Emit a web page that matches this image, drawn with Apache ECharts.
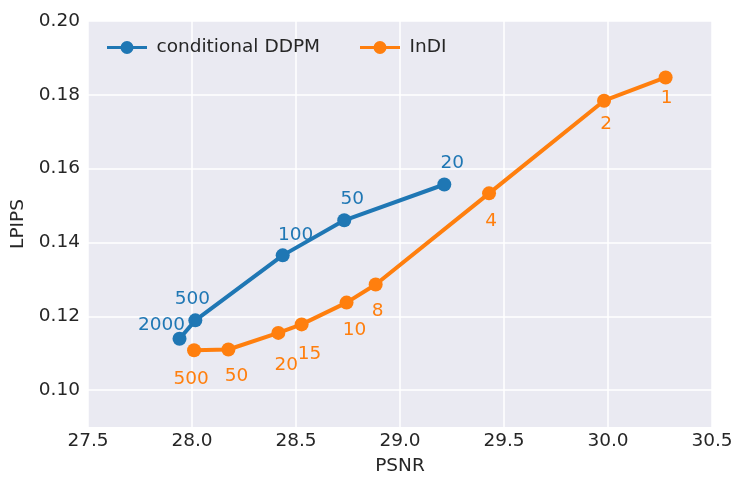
<!DOCTYPE html>
<html>
<head>
<meta charset="utf-8">
<script src="https://cdn.jsdelivr.net/npm/echarts@6/dist/echarts.min.js"></script>
<style>
html,body{margin:0;padding:0;background:#fff;}
#c{width:747px;height:491px;}
</style>
</head>
<body>
<div id="c"></div>
<script>
// Data
const ddpmPSNR  = [27.94, 28.016, 28.436, 28.732, 29.213];
const ddpmLPIPS = [0.1139, 0.1189, 0.1365, 0.1460, 0.1557];
const ddpmSteps = ['2000', '500', '100', '50', '20'];

const indiPSNR  = [28.010, 28.175, 28.415, 28.527, 28.743, 28.883, 29.428, 29.981, 30.277];
const indiLPIPS = [0.1108, 0.1110, 0.1155, 0.1178, 0.1237, 0.1286, 0.1533, 0.1784, 0.1847];
const indiSteps = ['500', '50', '20', '15', '10', '8', '4', '2', '1'];

const xTicks = [27.5, 28.0, 28.5, 29.0, 29.5, 30.0, 30.5];
const yTickLabels = ['0.10', '0.12', '0.14', '0.16', '0.18', '0.20'];

// Label placement (style, not data)
const ddpmLabelOffsets = [[-18,-14],[-3,-21],[13,-20],[8,-21],[8,-21]];
const indiLabelOffsets = [[-3,29],[8,27],[8,32],[8,30],[8,28],[2,27],[2,28],[2,23],[1,21]];

const BLUE = '#1f77b4', ORANGE = '#ff7f0e', TXT = '#262626';
const FONT = 'DejaVu Sans';
const FS = 18.5;

function build(xs, ys, labels, offsets) {
  return xs.map((x, i) => ({
    value: [x, ys[i]],
    name: labels[i],
    label: { offset: offsets[i] }
  }));
}

const legendIcon = 'path://M0,5 L40,5 L40,8 L0,8 Z M26.5,6.5 A6.5,6.5 0 1 1 13.5,6.5 A6.5,6.5 0 1 1 26.5,6.5 Z';

const chart = echarts.init(document.getElementById('c'), null, {renderer: 'canvas'});
chart.setOption({
  animation: false,
  backgroundColor: '#ffffff',
  textStyle: { fontFamily: FONT },
  grid: {
    left: 88, right: 35, top: 21, bottom: 64,
    show: true, backgroundColor: '#EAEAF2', borderWidth: 0
  },
  legend: {
    left: 102, top: 33,
    icon: legendIcon,
    itemWidth: 41, itemHeight: 13,
    itemGap: 40,
    textStyle: { fontFamily: FONT, fontSize: FS, color: TXT, padding: [0,0,0,4] },
    data: [
      { name: 'conditional DDPM', itemStyle: { color: BLUE } },
      { name: 'InDI', itemStyle: { color: ORANGE } }
    ]
  },
  xAxis: {
    type: 'value', min: 27.5, max: 30.5, interval: 0.5,
    name: 'PSNR', nameLocation: 'middle', nameGap: 30,
    nameTextStyle: { fontFamily: FONT, fontSize: FS, color: TXT },
    axisLine: { show: false }, axisTick: { show: false },
    axisLabel: {
      fontFamily: FONT, fontSize: FS, color: TXT, margin: 5,
      showMinLabel: true, showMaxLabel: true,
      formatter: v => {
        const t = xTicks.find(k => Math.abs(k - v) < 1e-6);
        return t === undefined ? '' : t.toFixed(1);
      }
    },
    splitLine: { show: true, lineStyle: { color: '#ffffff', width: 1.5 } }
  },
  yAxis: {
    type: 'value', min: 0.09, max: 0.20, interval: 0.01,
    name: 'LPIPS', nameLocation: 'middle', nameGap: 57, nameRotate: 90,
    nameTextStyle: { fontFamily: FONT, fontSize: FS, color: TXT },
    axisLine: { show: false }, axisTick: { show: false },
    axisLabel: {
      fontFamily: FONT, fontSize: FS, color: TXT, margin: 8,
      showMinLabel: true, showMaxLabel: true,
      formatter: v => {
        const s = v.toFixed(2);
        return yTickLabels.indexOf(s) >= 0 ? s : '';
      }
    },
    splitLine: { show: true, lineStyle: { color: ['rgba(0,0,0,0)', '#ffffff'], width: 1.5 } }
  },
  series: [
    {
      name: 'conditional DDPM', type: 'line',
      data: build(ddpmPSNR, ddpmLPIPS, ddpmSteps, ddpmLabelOffsets),
      symbol: 'circle', symbolSize: 14,
      lineStyle: { color: BLUE, width: 4 },
      itemStyle: { color: BLUE, borderWidth: 0 },
      label: {
        show: true, position: 'inside', formatter: p => p.name,
        fontFamily: FONT, fontSize: FS, color: BLUE
      },
      z: 3
    },
    {
      name: 'InDI', type: 'line',
      data: build(indiPSNR, indiLPIPS, indiSteps, indiLabelOffsets),
      symbol: 'circle', symbolSize: 14,
      lineStyle: { color: ORANGE, width: 4 },
      itemStyle: { color: ORANGE, borderWidth: 0 },
      label: {
        show: true, position: 'inside', formatter: p => p.name,
        fontFamily: FONT, fontSize: FS, color: ORANGE
      },
      z: 2
    }
  ]
});
</script>
</body>
</html>
